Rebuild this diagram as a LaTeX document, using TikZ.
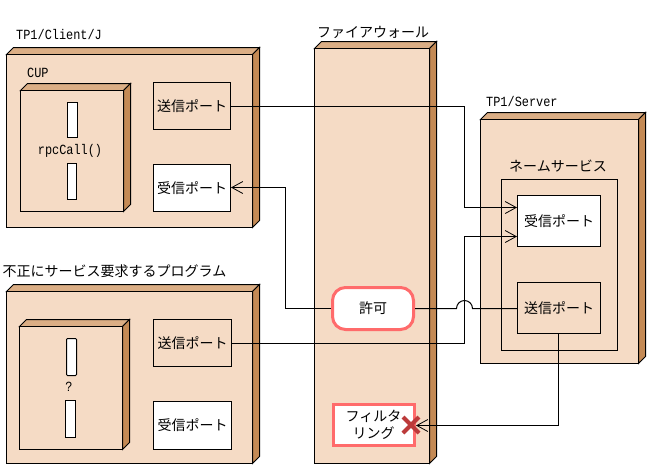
\documentclass[tikz,border=0pt]{standalone}
\usepackage{fontspec}
\setmainfont{Noto Sans CJK JP}
\newfontfamily\latinmono[FakeStretch=0.85]{Liberation Mono}
\usetikzlibrary{arrows.meta}
\definecolor{bodyfill}{HTML}{F5DBC5}
\definecolor{topfill}{HTML}{DBAE85}
\definecolor{sidefill}{HTML}{C48A55}
\definecolor{hilite}{HTML}{FF6B6B}
\definecolor{crossred}{HTML}{BC3A3A}
\tikzset{
  port/.style={draw=black,line width=1pt,inner sep=0pt,font=\fontsize{14}{14}\selectfont},
  sendport/.style={port,fill=bodyfill},
  recvport/.style={port,fill=white},
  bar/.style={draw=black,line width=1pt,fill=white},
  wire/.style={draw=black,line width=1pt},
  wirearrow/.style={wire,-{Straight Barb[length=11pt,width=12pt,line width=.8pt]}},
  rulebox/.style={draw=hilite,line width=3pt,fill=white,inner sep=0pt,align=center,font=\fontsize{14}{17}\selectfont},
  jp/.style={font=\fontsize{14}{14}\selectfont,inner sep=0pt},
  lat/.style={font=\fontsize{14}{14}\latinmono,inner sep=0pt},
}
% front box with top and side faces: x1,y1,x2,y2,depth
\newcommand{\solidbox}[5]{
  \draw[line width=1pt,fill=topfill] (#1,#2)--++(#5,-#5)--(#3+#5,#2-#5)--(#3,#2)--cycle;
  \draw[line width=1pt,fill=sidefill] (#3,#2)--(#3+#5,#2-#5)--(#3+#5,#4-#5)--(#3,#4)--cycle;
  \draw[line width=1pt,fill=bodyfill] (#1,#2) rectangle (#3,#4);
}
\begin{document}
\begin{tikzpicture}[x=1pt,y=-1pt]
\useasboundingbox (0,0) rectangle (652,467);
% client
\solidbox{6.5}{54.5}{252.5}{227.5}{7}
\node[lat,anchor=west] (clientlabel) at (16,34) {TP1/Client/J};
\node[lat,anchor=west] (cuplabel) at (27,73) {CUP};
\solidbox{20.5}{90.5}{123.5}{211.5}{7}
\draw[bar] (67.5,102.5) rectangle (77.5,137.5);
\draw[bar] (67.5,163.5) rectangle (76.5,199.5);
\node[lat] (rpc) at (70,151) {rpcCall()};
\node[sendport,minimum width=77pt,minimum height=47pt] (csend) at (192,106) {送信ポート};
\node[recvport,minimum width=77pt,minimum height=47pt] (crecv) at (192,188) {受信ポート};
% program
\solidbox{6.5}{291.5}{252.5}{463.5}{7}
\node[jp,anchor=west] (proglabel) at (2.5,271) {不正にサービス要求するプログラム};
\solidbox{19.5}{326.5}{122.5}{449.5}{7}
\draw[bar,rounded corners=1pt] (66.5,338.5) rectangle (76.5,375.5);
\draw[bar] (65.5,400.5) rectangle (75.5,437.5);
\node[lat] (quest) at (69,387) {?};
\node[sendport,minimum width=78pt,minimum height=47pt] (psend) at (192.5,343) {送信ポート};
\node[recvport,minimum width=78pt,minimum height=48pt] (precv) at (192.5,425.5) {受信ポート};
% firewall
\solidbox{314.5}{48.5}{429.5}{463.5}{7}
\node[jp,anchor=west] (walllabel) at (317,32) {ファイアウォール};
% server
\solidbox{480.5}{119.5}{638.5}{363.5}{7}
\node[lat,anchor=west] (serverlabel) at (486,101) {TP1/Server};
\draw[line width=1pt,fill=bodyfill] (501.5,179.5) rectangle (617.5,350.5);
\node[jp] (namelabel) at (558,166) {ネームサービス};
\node[recvport,minimum width=83pt,minimum height=51pt] (srecv) at (559,221) {受信ポート};
\node[sendport,minimum width=83pt,minimum height=51pt] (ssend) at (559,308) {送信ポート};
% filter nodes
\node[rulebox,minimum width=81pt,minimum height=42pt,rounded corners=13pt] (allow) at (373,308.5) {許可};
\node[rulebox,minimum width=81pt,minimum height=41pt] (filter) at (373.5,425) {フィルタ\\リング};
% wires
\coordinate (a1) at (464.5,207.5);
\coordinate (a2) at (464.5,236.5);
\coordinate (hopin) at (456.5,308.5);
\coordinate (xtip) at (416,425.5);
\draw[wirearrow] (csend.east) -- (a1 |- csend.east) -- (a1) -- (srecv.west |- a1);
\draw[wirearrow] (psend.east) -- (a2 |- psend.east) -- (a2) -- (srecv.west |- a2);
\draw[wirearrow] (allow.west) -- (285.5,308.5) -- (285.5,187.5) -- (crecv.east |- 0,187.5);
\draw[wire] (allow.east) -- (hopin) arc[start angle=180,end angle=360,radius=8] -- (ssend.west |- hopin);
\draw[wirearrow] (558.5,333.5) -- (558.5,425.5) -- (xtip);
\draw[crossred,line width=4pt] (403,417) -- (419,433) (419,417) -- (403,433);
\end{tikzpicture}
\end{document}
